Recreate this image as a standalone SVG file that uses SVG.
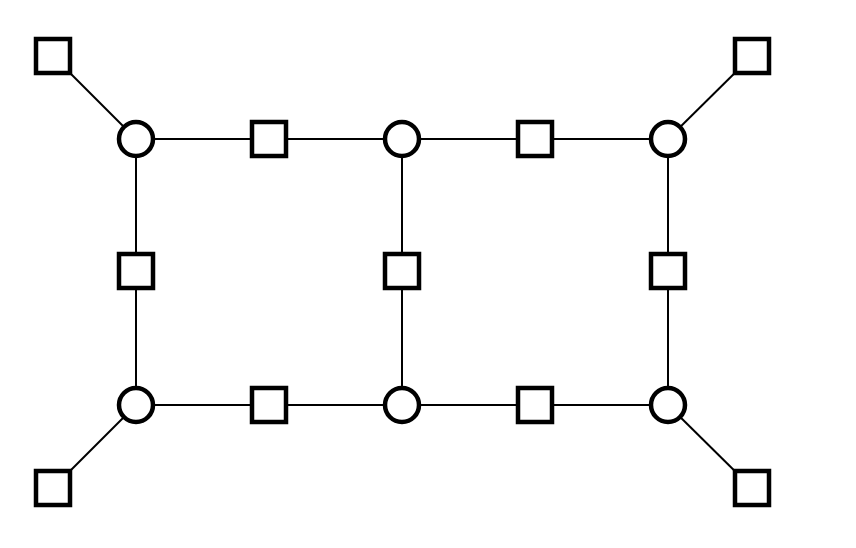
<svg xmlns="http://www.w3.org/2000/svg" width="856" height="548" viewBox="0 0 856 548">
<style>
.e{stroke:#000;stroke-width:2;fill:none}
.s{fill:#fff;stroke:#000;stroke-width:4.5}
</style>
<rect width="856" height="548" fill="#fff"/>
<g id="edges">
<line class="e" x1="53" y1="56" x2="136" y2="139"/>
<line class="e" x1="752" y1="56" x2="668" y2="139"/>
<line class="e" x1="53" y1="488" x2="136" y2="405"/>
<line class="e" x1="752" y1="488" x2="668" y2="405"/>
<line class="e" x1="136" y1="139" x2="668" y2="139"/>
<line class="e" x1="136" y1="405" x2="668" y2="405"/>
<line class="e" x1="136" y1="139" x2="136" y2="405"/>
<line class="e" x1="402" y1="139" x2="402" y2="405"/>
<line class="e" x1="668" y1="139" x2="668" y2="405"/>
</g>
<g id="c1"><circle class="s" cx="136" cy="139" r="17"/></g>
<g id="c2"><circle class="s" cx="402" cy="139" r="17"/></g>
<g id="c3"><circle class="s" cx="668" cy="139" r="17"/></g>
<g id="c4"><circle class="s" cx="136" cy="405" r="17"/></g>
<g id="c5"><circle class="s" cx="402" cy="405" r="17"/></g>
<g id="c6"><circle class="s" cx="668" cy="405" r="17"/></g>
<g id="s1"><rect class="s" x="36" y="39" width="34" height="34"/></g>
<g id="s2"><rect class="s" x="735" y="39" width="34" height="34"/></g>
<g id="s3"><rect class="s" x="36" y="471" width="34" height="34"/></g>
<g id="s4"><rect class="s" x="735" y="471" width="34" height="34"/></g>
<g id="s5"><rect class="s" x="252" y="122" width="34" height="34"/></g>
<g id="s6"><rect class="s" x="518" y="122" width="34" height="34"/></g>
<g id="s7"><rect class="s" x="252" y="388" width="34" height="34"/></g>
<g id="s8"><rect class="s" x="518" y="388" width="34" height="34"/></g>
<g id="s9"><rect class="s" x="119" y="254" width="34" height="34"/></g>
<g id="s10"><rect class="s" x="385" y="254" width="34" height="34"/></g>
<g id="s11"><rect class="s" x="651" y="254" width="34" height="34"/></g>
</svg>
